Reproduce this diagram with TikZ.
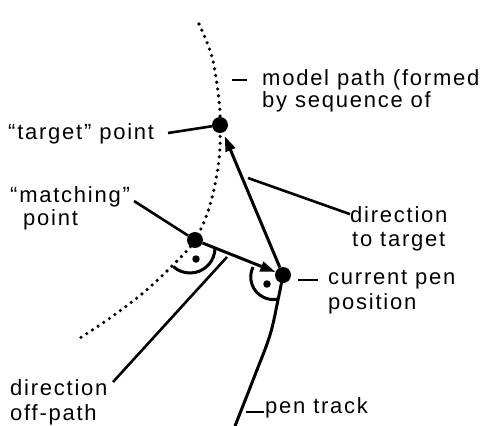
\documentclass[tikz,border=0pt]{standalone}
\usepackage{fontspec}
\setmainfont{Liberation Sans}[LetterSpace=8]
\usetikzlibrary{arrows.meta}
\begin{document}
\begin{tikzpicture}[x=1pt,y=-1pt,
  lbl/.style={anchor=base west, inner sep=0pt, font=\fontsize{22}{24}\selectfont},
  bigdot/.style={circle, fill=black, inner sep=0pt, minimum size=16pt},
  smalldot/.style={circle, fill=black, inner sep=0pt, minimum size=7.5pt},
  lead/.style={line width=2.6pt},
  main/.style={line width=3pt},
  arr/.style={main, -{Triangle[length=15pt,width=10pt]}},
  modelpath/.style={line width=3.6pt, line cap=round, dash pattern=on 0pt off 6.8pt}]
\useasboundingbox (0,0) rectangle (485,426);

% points
\node[bigdot] (tgt) at (220,125) {};
\node[bigdot] (mat) at (195,240) {};
\node[bigdot] (pen) at (283,275) {};
\node[smalldot] (matdot) at (196,259) {};
\node[smalldot] (pendot) at (267,284) {};

% model path (dotted)
\draw[modelpath] plot[smooth, tension=0.6] coordinates {(199,24) (212,57) (219,100) (tgt.center) (219,160) (210,205) (mat.center) (173,265) (143,293) (110,318) (80,338)};

% pen track
\draw[main] plot[smooth, tension=0.6] coordinates {(pen.center) (278,300) (270,335) (255,375) (235,426)};

% arrows
\draw[arr, shorten >=4pt] (pen) -- (tgt);
\draw[arr] (mat) -- (pen);

% angle marks
\draw[main] (215,248) arc[start angle=0, end angle=132, radius=25];
\draw[main] (253,267) arc[start angle=206, end angle=81, radius=22.6];

% labels
\node[lbl] (model1) at (262,85) {model path (formed};
\node[lbl] (model2) at (262,107) {by sequence of};
\node[lbl] (tgtlbl) at (8,139) {“target” point};
\node[lbl] (mat1) at (10,202) {“matching”};
\node[lbl] (mat2) at (23,225) {point};
\node[lbl] (dir1) at (350,222) {direction};
\node[lbl] (dir2) at (352,246) {to target};
\node[lbl] (cur1) at (328,284) {current pen};
\node[lbl] (cur2) at (328,309) {position};
\node[lbl] (trk) at (265,413) {pen track};
\node[lbl] (off1) at (10,395) {direction};
\node[lbl] (off2) at (10,420) {off-path};

% leaders
\coordinate (mA) at (232,80);
\coordinate (mB) at (247,80);
\draw[lead] (mA) -- (mB);
\coordinate (tA) at (168,133);
\draw[lead] (tA) -- (tgt);
\coordinate (mtA) at (134,201);
\draw[lead] (mtA) -- (mat);
\coordinate (dtA) at (248,178);
\draw[lead] (dtA) -- (dir1.west);
\coordinate (cA) at (298,280);
\coordinate (cB) at (318,280);
\draw[lead] (cA) -- (cB);
\coordinate (pA) at (246,412);
\coordinate (pB) at (264,412);
\draw[lead] (pA) -- (pB);
\coordinate (oA) at (227,257);
\coordinate (oB) at (113,382);
\draw[lead] (oA) -- (oB);
\end{tikzpicture}
\end{document}
